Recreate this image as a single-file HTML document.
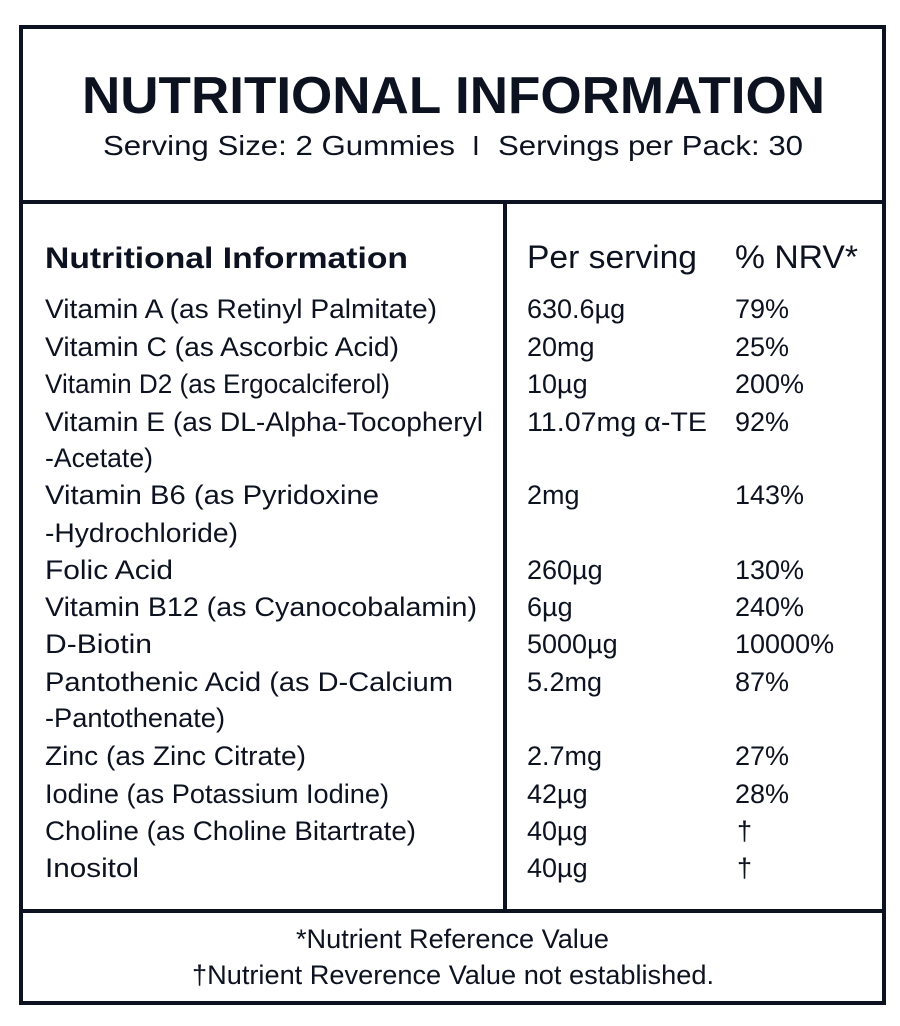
<!DOCTYPE html><html><head><style>body{margin:0;background:#fff}svg{display:block}</style></head><body>
<svg width="900" height="1026" xmlns="http://www.w3.org/2000/svg" font-family="Liberation Sans, Arial, sans-serif" fill="#0d1220">
<rect x="21" y="27" width="863" height="976" fill="none" stroke="#0d1220" stroke-width="4"/>
<line x1="21" y1="202" x2="884" y2="202" stroke="#0d1220" stroke-width="4"/>
<line x1="21" y1="911" x2="884" y2="911" stroke="#0d1220" stroke-width="4"/>
<line x1="505" y1="202" x2="505" y2="911" stroke="#0d1220" stroke-width="4"/>
<text x="82" y="113" font-size="52" font-weight="bold" textLength="743" lengthAdjust="spacingAndGlyphs">NUTRITIONAL INFORMATION</text>
<text x="103" y="155" font-size="28" textLength="352" lengthAdjust="spacingAndGlyphs">Serving Size: 2 Gummies</text>
<text x="472" y="155" font-size="28">I</text>
<text x="498" y="155" font-size="28" textLength="305" lengthAdjust="spacingAndGlyphs">Servings per Pack: 30</text>
<text x="45" y="268" font-size="30" font-weight="bold" textLength="363" lengthAdjust="spacingAndGlyphs">Nutritional Information</text>
<text x="527" y="268" font-size="32" textLength="170" lengthAdjust="spacingAndGlyphs">Per serving</text>
<text x="735" y="268" font-size="32" textLength="123" lengthAdjust="spacingAndGlyphs">% NRV*</text>
<g font-size="27">
<text x="45" y="318" textLength="392" lengthAdjust="spacingAndGlyphs">Vitamin A (as Retinyl Palmitate)</text>
<text x="45" y="356" textLength="354" lengthAdjust="spacingAndGlyphs">Vitamin C (as Ascorbic Acid)</text>
<text x="45" y="393" textLength="345" lengthAdjust="spacingAndGlyphs">Vitamin D2 (as Ergocalciferol)</text>
<text x="45" y="431" textLength="438" lengthAdjust="spacingAndGlyphs">Vitamin E (as DL-Alpha-Tocopheryl</text>
<text x="45" y="467" textLength="108" lengthAdjust="spacingAndGlyphs">-Acetate)</text>
<text x="45" y="504" textLength="334" lengthAdjust="spacingAndGlyphs">Vitamin B6 (as Pyridoxine</text>
<text x="45" y="542" textLength="193" lengthAdjust="spacingAndGlyphs">-Hydrochloride)</text>
<text x="45" y="579" textLength="128" lengthAdjust="spacingAndGlyphs">Folic Acid</text>
<text x="45" y="616" textLength="432" lengthAdjust="spacingAndGlyphs">Vitamin B12 (as Cyanocobalamin)</text>
<text x="45" y="653" textLength="107" lengthAdjust="spacingAndGlyphs">D-Biotin</text>
<text x="45" y="691" textLength="408" lengthAdjust="spacingAndGlyphs">Pantothenic Acid (as D-Calcium</text>
<text x="45" y="727" textLength="180" lengthAdjust="spacingAndGlyphs">-Pantothenate)</text>
<text x="45" y="765" textLength="261" lengthAdjust="spacingAndGlyphs">Zinc (as Zinc Citrate)</text>
<text x="45" y="803" textLength="344" lengthAdjust="spacingAndGlyphs">Iodine (as Potassium Iodine)</text>
<text x="45" y="840" textLength="371" lengthAdjust="spacingAndGlyphs">Choline (as Choline Bitartrate)</text>
<text x="45" y="877" textLength="94" lengthAdjust="spacingAndGlyphs">Inositol</text>
<text x="527" y="318">630.6µg</text><text x="735" y="318">79%</text>
<text x="527" y="356">20mg</text><text x="735" y="356">25%</text>
<text x="527" y="393">10µg</text><text x="735" y="393">200%</text>
<text x="527" y="431" textLength="180" lengthAdjust="spacingAndGlyphs">11.07mg α-TE</text><text x="735" y="431">92%</text>
<text x="527" y="504">2mg</text><text x="735" y="504">143%</text>
<text x="527" y="579">260µg</text><text x="735" y="579">130%</text>
<text x="527" y="616">6µg</text><text x="735" y="616">240%</text>
<text x="527" y="653">5000µg</text><text x="735" y="653">10000%</text>
<text x="527" y="691">5.2mg</text><text x="735" y="691">87%</text>
<text x="527" y="765">2.7mg</text><text x="735" y="765">27%</text>
<text x="527" y="803">42µg</text><text x="735" y="803">28%</text>
<text x="527" y="840">40µg</text><text x="737" y="840">†</text>
<text x="527" y="877">40µg</text><text x="737" y="877">†</text>
<text x="296" y="948" textLength="313" lengthAdjust="spacingAndGlyphs">*Nutrient Reference Value</text>
<text x="192" y="984" textLength="522" lengthAdjust="spacingAndGlyphs">†Nutrient Reverence Value not established.</text>
</g>
</svg>
</body></html>
